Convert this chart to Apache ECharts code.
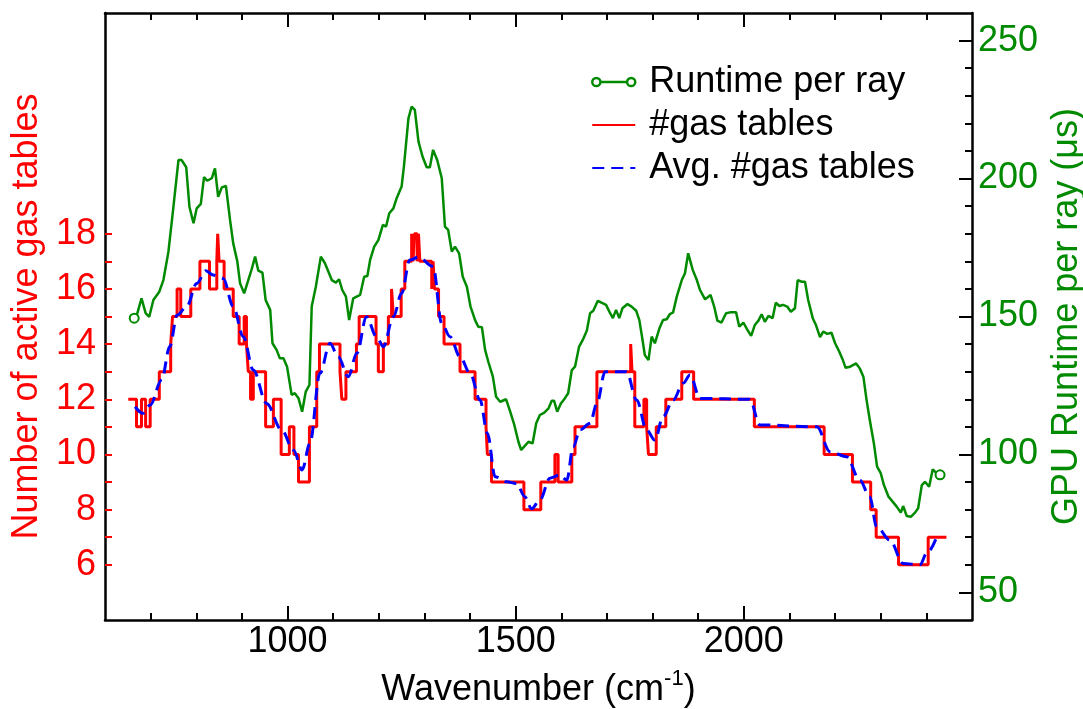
<!DOCTYPE html>
<html>
<head>
<meta charset="utf-8">
<script src="https://cdn.jsdelivr.net/npm/echarts@6/dist/echarts.min.js"></script>
<style>
  html, body { margin: 0; padding: 0; background: #fff; }
  #main { width: 1083px; height: 709px; }
</style>
</head>
<body>
<div id="main"></div>
<script>
// #gas tables: wavenumber where the count changes, and the new count
const redW = [651, 669, 680, 689, 699, 719, 744, 748, 758, 766, 788, 808, 829, 845, 847, 850, 861, 881, 894, 905,
  910, 914, 919, 925, 952, 969, 986, 1004, 1014, 1024, 1048, 1064, 1070, 1115, 1119, 1128, 1151, 1157, 1194, 1199,
  1210, 1221, 1228, 1232, 1249, 1257, 1272, 1275, 1278, 1284, 1287, 1290, 1316, 1319, 1322, 1331, 1343, 1378, 1411, 1435,
  1438, 1447, 1518, 1555, 1586, 1593, 1623, 1630, 1678, 1752, 1755, 1761, 1781, 1787, 1791, 1808, 1829, 1864, 1890, 2023,
  2176, 2238, 2278, 2290, 2339, 2404, 2444];
const redN = [12, 11, 12, 11, 12, 13, 14, 15, 16, 15, 16, 17, 16, 17, 18, 17, 16, 15, 14, 15,
  14, 13, 12, 13, 11, 12, 10, 11, 10, 9, 11, 13, 14, 13, 12, 13, 14, 15, 14, 13,
  14, 15, 16, 15, 16, 17, 18, 17, 18, 17, 18, 17, 16, 17, 16, 15, 14, 13, 12, 11,
  10, 9, 8, 9, 10, 9, 10, 11, 13, 14, 13, 11, 12, 11, 10, 11, 12, 13, 12, 11,
  10, 9, 8, 7, 6, 7, 7];

// Avg. #gas tables
const avgW = [666, 683, 699, 724, 742, 758, 779, 801, 821, 837, 859, 881, 903, 925, 954, 987, 1013, 1032, 1049, 1071,
  1093, 1111, 1133, 1152, 1173, 1195, 1210, 1232, 1250, 1268, 1287, 1319, 1338, 1356, 1378, 1400, 1422, 1438, 1455, 1480,
  1502, 1520, 1535, 1553, 1575, 1597, 1612, 1626, 1641, 1663, 1678, 1696, 1743, 1765, 1787, 1805, 1823, 1845, 1867, 1882,
  1904, 2013, 2035, 2160, 2189, 2225, 2254, 2276, 2291, 2320, 2349, 2386, 2401, 2423];
const avgN = [11.73, 11.49, 11.79, 12.7, 13.91, 15.05, 15.36, 16.2, 16.66, 16.5, 16.38, 15.36, 14.27, 13.06, 11.85, 10.89, 10.16, 9.44, 10.4, 12.94,
  14.03, 13.54, 12.82, 13.67, 14.99, 14.27, 13.91, 14.99, 15.84, 17.05, 17.15, 16.81, 14.75, 14.27, 13.54, 12.94, 11.97, 10.77, 9.19, 9.01,
  8.95, 8.47, 8.03, 8.35, 9.14, 9.26, 9.07, 10.28, 10.89, 11.13, 11.85, 13.0, 13.0, 11.97, 10.89, 10.52, 11.37, 11.97, 12.58, 12.88,
  12.03, 12.0, 11.07, 11.0, 10.1, 9.92, 9.07, 8.47, 7.38, 6.9, 6.05, 6.0, 6.42, 7.02];

// Runtime per ray (us)
const rtW = [664, 671, 680, 689, 697, 706, 719, 728, 739, 750, 761, 768, 778, 785, 794, 801, 810, 817, 824, 834,
  841, 848, 856, 865, 874, 881, 890, 896, 905, 914, 921, 929, 936, 945, 952, 962, 967, 976, 983, 991,
  999, 1009, 1016, 1024, 1032, 1040, 1048, 1053, 1062, 1073, 1082, 1097, 1106, 1113, 1120, 1128, 1135, 1144, 1159, 1168,
  1175, 1181, 1190, 1199, 1209, 1216, 1223, 1232, 1239, 1250, 1255, 1265, 1272, 1279, 1287, 1296, 1305, 1312, 1319, 1328,
  1338, 1345, 1352, 1360, 1367, 1376, 1384, 1393, 1401, 1411, 1418, 1426, 1433, 1440, 1450, 1457, 1466, 1479, 1488, 1497,
  1506, 1512, 1520, 1528, 1537, 1545, 1553, 1562, 1572, 1579, 1584, 1591, 1599, 1608, 1615, 1623, 1630, 1639, 1647, 1656,
  1663, 1670, 1680, 1688, 1698, 1707, 1713, 1720, 1727, 1734, 1745, 1754, 1764, 1771, 1778, 1783, 1791, 1798, 1805, 1815,
  1823, 1831, 1838, 1845, 1853, 1864, 1871, 1878, 1888, 1897, 1904, 1915, 1927, 1935, 1942, 1951, 1961, 1970, 1983, 1990,
  1999, 2008, 2016, 2024, 2032, 2039, 2046, 2054, 2063, 2070, 2078, 2086, 2095, 2103, 2112, 2118, 2127, 2134, 2141, 2151,
  2158, 2167, 2174, 2183, 2192, 2200, 2209, 2217, 2223, 2233, 2246, 2254, 2262, 2269, 2276, 2285, 2292, 2300, 2307, 2317,
  2326, 2335, 2344, 2349, 2357, 2366, 2375, 2382, 2390, 2397, 2406, 2414, 2421, 2430];
const rtUs = [149.4, 151.2, 156.6, 151.2, 149.9, 156, 159, 163.2, 173.5, 189.8, 206.7, 206.7, 204.1, 189.8, 183.8, 189.2, 190.8, 200.5, 199.2, 200.1,
  203.7, 193.4, 196.8, 197.3, 185, 176.5, 169.9, 162, 158.4, 163.2, 166.9, 171.7, 166.6, 165.9, 156, 152.4, 140.3, 137.9, 134.9, 134.9,
  131.8, 121.6, 122.2, 120.4, 115.5, 122.8, 125.2, 153.6, 160.8, 171.7, 169.3, 163.2, 162.3, 163.5, 159.6, 157.2, 148.7, 156.6, 157.8, 164.4,
  164.7, 170.5, 175.3, 177.7, 183.2, 182.6, 187.4, 189.2, 192.8, 197.1, 204.3, 221.8, 226.1, 224.9, 213.4, 207.9, 204.1, 204.1, 210.4, 206.7,
  200.1, 182.6, 181.4, 173.5, 175.3, 172.9, 164.4, 160.8, 153.6, 148.7, 146.3, 146.1, 137.9, 133.6, 128.2, 120.9, 119.1, 120, 115.5, 110.7,
  104.6, 101.6, 103.1, 104.6, 104, 111.3, 114.3, 115.1, 116.7, 119.5, 119.5, 115.5, 118.5, 120.4, 122.2, 130.6, 131.8, 139.1, 141.5, 144.9,
  151.2, 152.1, 155.7, 155, 154.2, 151.2, 149.4, 152.4, 149.4, 153, 154.5, 153.6, 152.1, 148.7, 141.5, 136, 134.2, 142.7, 140.3, 145.7,
  148.7, 149, 150.9, 151.5, 157.2, 163.2, 165.7, 172.9, 166.9, 163.2, 159.6, 156.2, 157.8, 153.6, 148.5, 147.8, 151.2, 151.5, 151.5, 146.3,
  147.8, 145.1, 143, 146.9, 148.5, 150.8, 148.1, 150.2, 149.4, 155, 153.8, 154.2, 153.6, 151.7, 153, 163.2, 162.6, 162.6, 156, 149.4,
  146.9, 142.5, 144.5, 143.7, 144.1, 140.3, 137.3, 134.2, 131.4, 131.8, 133, 131.2, 128.2, 119.7, 112.5, 104, 95.6, 93.2, 88.9, 84.7,
  82.9, 81.1, 78.9, 81.3, 77.7, 77.4, 78.9, 80.5, 88.9, 90.1, 88.3, 94.6, 93.4, 92.6];

// tick positions / labels
const xMajor = [1000, 1500, 2000];
const xMinor = [700, 800, 900, 1100, 1200, 1300, 1400, 1600, 1700, 1800, 1900, 2100, 2200, 2300, 2400];
const leftTicks = [6, 7, 8, 9, 10, 11, 12, 13, 14, 15, 16, 17, 18];
const leftLabels = [6, 8, 10, 12, 14, 16, 18];
const rightMajor = [50, 100, 150, 200, 250];
const rightMinor = [60, 70, 80, 90, 110, 120, 130, 140, 160, 170, 180, 190, 210, 220, 230, 240];

const FONT = 'Liberation Sans, Arial, Helvetica, sans-serif';
const RED = '#ff0000', BLUE = '#0000ff', GREEN = '#008a00';
const frame = { show: true, onZero: false, lineStyle: { color: '#000', width: 2.5 } };

function xAx(pos, ticks, len, major) {
  return {
    type: 'value', position: pos, min: 600, max: 2500,
    axisLine: major ? frame : { show: false },
    axisTick: { show: true, inside: true, length: len, customValues: ticks, lineStyle: { color: '#000', width: 2 } },
    axisLabel: (major && pos === 'bottom')
      ? { show: true, customValues: ticks, fontSize: 36, color: '#000', fontFamily: FONT, margin: 4,
          formatter: v => String(v) }
      : { show: false },
    splitLine: { show: false }
  };
}

const bottomMain = xAx('bottom', xMajor, 14, true);
bottomMain.name = '{a|Wavenumber (cm}{s|-1}{a|)}';
bottomMain.nameLocation = 'middle';
bottomMain.nameGap = 48;
bottomMain.nameTextStyle = {
  rich: {
    a: { fontSize: 36, color: '#000', fontFamily: FONT },
    s: { fontSize: 22, color: '#000', fontFamily: FONT, padding: [0, 0, 22, 0] }
  }
};

const rtData = rtW.map((w, i) => {
  const end = i === 0 || i === rtW.length - 1;
  return { value: [w, rtUs[i]], symbol: end ? 'emptyCircle' : 'none' };
});

const option = {
  animation: false,
  backgroundColor: '#fff',
  textStyle: { fontFamily: FONT },
  grid: { left: 105, right: 111, top: 13, bottom: 89, containLabel: false, outerBoundsMode: 'none' },
  legend: {
    orient: 'vertical', left: 586, top: 59, itemGap: 7,
    itemWidth: 43, itemHeight: 9,
    textStyle: { fontSize: 36, color: '#000', fontFamily: FONT, padding: [0, 0, 0, 9] },
    data: [
      { name: 'Runtime per ray',
        icon: 'path://M1,5A4,4,0,1,1,9,5A4,4,0,1,1,1,5ZM9,5L35,5M35,5A4,4,0,1,1,43,5A4,4,0,1,1,35,5Z',
        itemStyle: { color: 'rgba(0,0,0,0)', borderColor: GREEN, borderWidth: 2.5 } },
      { name: '#gas tables', itemStyle: { opacity: 0 } },
      { name: 'Avg. #gas tables', itemStyle: { opacity: 0 } }
    ]
  },
  xAxis: [
    bottomMain,
    xAx('bottom', xMinor, 7, false),
    xAx('top', xMajor, 14, true),
    xAx('top', xMinor, 7, false)
  ],
  yAxis: [
    {
      type: 'value', position: 'left', min: 4, max: 26,
      name: 'Number of active gas tables', nameLocation: 'middle', nameGap: 58,
      nameTextStyle: { fontSize: 36, color: RED, fontFamily: FONT },
      axisLine: frame,
      axisTick: { show: true, inside: true, length: 7, customValues: leftTicks, lineStyle: { color: RED, width: 2 } },
      axisLabel: { customValues: leftLabels, fontSize: 36, color: RED, fontFamily: FONT, margin: 9 },
      splitLine: { show: false }
    },
    {
      type: 'value', position: 'right', min: 40, max: 260,
      name: 'GPU Runtime per ray (μs)', nameLocation: 'middle', nameGap: 72,
      nameTextStyle: { fontSize: 36, color: GREEN, fontFamily: FONT },
      axisLine: frame,
      axisTick: { show: true, inside: true, length: 13, customValues: rightMajor, lineStyle: { color: '#000', width: 2 } },
      axisLabel: { customValues: rightMajor, fontSize: 36, color: GREEN, fontFamily: FONT, margin: 6 },
      splitLine: { show: false }
    },
    {
      type: 'value', position: 'right', min: 40, max: 260,
      axisLine: { show: false },
      axisTick: { show: true, inside: true, length: 7, customValues: rightMinor, lineStyle: { color: '#000', width: 2 } },
      axisLabel: { show: false },
      splitLine: { show: false }
    }
  ],
  series: [
    {
      name: '#gas tables', type: 'line', step: 'end', xAxisIndex: 0, yAxisIndex: 0,
      symbol: 'none', color: RED,
      lineStyle: { color: RED, width: 3 },
      data: redW.map((w, i) => [w, redN[i]])
    },
    {
      name: 'Avg. #gas tables', type: 'line', smooth: 0.35, smoothMonotone: 'x', xAxisIndex: 0, yAxisIndex: 0,
      symbol: 'none', color: BLUE,
      lineStyle: { color: BLUE, width: 3, type: [12, 7] },
      data: avgW.map((w, i) => [w, avgN[i]])
    },
    {
      name: 'Runtime per ray', type: 'line', xAxisIndex: 0, yAxisIndex: 1,
      showSymbol: true, symbolSize: 9, color: GREEN,
      itemStyle: { color: GREEN, borderColor: GREEN, borderWidth: 2.5 },
      lineStyle: { color: GREEN, width: 2.5 },
      data: rtData
    }
  ]
};

const chart = echarts.init(document.getElementById('main'), null, { renderer: 'canvas' });
chart.setOption(option);
</script>
</body>
</html>
